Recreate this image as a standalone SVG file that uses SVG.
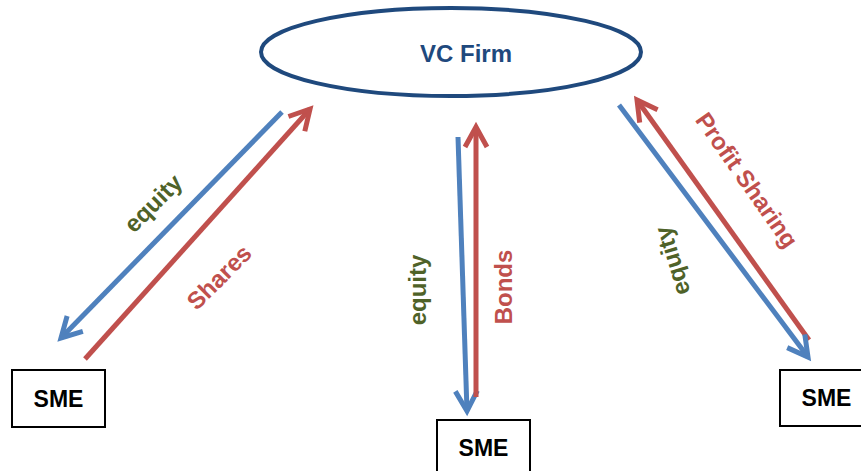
<svg xmlns="http://www.w3.org/2000/svg" width="861" height="471" viewBox="0 0 861 471">
  <style>
    .lbl { font-family: "Liberation Sans", Arial, sans-serif; font-weight: bold; font-size: 24px; text-anchor: middle; dominant-baseline: central; }
    .green { fill: #4F6228; }
    .red { fill: #C0504D; }
    .box { fill: #FFFFFF; stroke: #000000; stroke-width: 2; }
    .sme { font-family: "Liberation Sans", Arial, sans-serif; font-weight: bold; font-size: 23px; fill: #000000; text-anchor: middle; dominant-baseline: central; }
    .blueLine { stroke: #4F81BD; stroke-width: 5; fill: none; marker-end: url(#headBlue); }
    .redLine { stroke: #C0504D; stroke-width: 5; fill: none; marker-end: url(#headRed); }
  </style>
  <defs>
    <marker id="headBlue" markerUnits="userSpaceOnUse" viewBox="-26 -14 30 28" refX="0" refY="0" markerWidth="30" markerHeight="28" orient="auto" overflow="visible">
      <path d="M-20,-11 L0,0 L-20,11" fill="none" stroke="#4F81BD" stroke-width="5" stroke-linejoin="miter"/>
    </marker>
    <marker id="headRed" markerUnits="userSpaceOnUse" viewBox="-26 -14 30 28" refX="0" refY="0" markerWidth="30" markerHeight="28" orient="auto" overflow="visible">
      <path d="M-20,-11 L0,0 L-20,11" fill="none" stroke="#C0504D" stroke-width="5" stroke-linejoin="miter"/>
    </marker>
  </defs>

  <rect width="861" height="471" fill="#FFFFFF"/>

  <!-- central investor -->
  <g id="vc-firm">
    <ellipse cx="451" cy="52" rx="190" ry="44" fill="#FFFFFF" stroke="#1F497D" stroke-width="4"/>
    <text x="466" y="53" font-family="Liberation Sans, Arial, sans-serif" font-weight="bold" font-size="24" fill="#1F497D" text-anchor="middle" dominant-baseline="central">VC Firm</text>
  </g>

  <!-- SME nodes -->
  <g id="sme-left">
    <rect class="box" x="12" y="370" width="93" height="57"/>
    <text class="sme" x="58.5" y="399">SME</text>
  </g>
  <g id="sme-middle">
    <rect class="box" x="437" y="420" width="93" height="57"/>
    <text class="sme" x="483.5" y="448">SME</text>
  </g>
  <g id="sme-right">
    <rect class="box" x="780" y="370" width="93" height="56"/>
    <text class="sme" x="826.5" y="398">SME</text>
  </g>

  <!-- flows between firm and SMEs -->
  <g id="connectors">
    <line class="blueLine" x1="282" y1="112" x2="61" y2="338"/>
    <line class="redLine" x1="85" y1="359" x2="310" y2="109"/>

    <line class="blueLine" x1="458" y1="137" x2="467" y2="411"/>
    <line class="redLine" x1="476" y1="397" x2="476" y2="127"/>

    <line class="redLine" x1="809" y1="340" x2="637" y2="100"/>
    <line class="blueLine" x1="619" y1="105" x2="808" y2="357"/>

    <text class="lbl green" transform="translate(153 203) rotate(-45)">equity</text>
    <text class="lbl red" transform="translate(219 277) rotate(-45)">Shares</text>
    <text class="lbl green" transform="translate(417 290) rotate(-90)">equity</text>
    <text class="lbl red" transform="translate(503 287) rotate(-90)">Bonds</text>
    <text class="lbl green" transform="translate(672 261) rotate(-107)">equity</text>
    <text class="lbl red" transform="translate(747 180) rotate(55)">Profit Sharing</text>
  </g>
</svg>
